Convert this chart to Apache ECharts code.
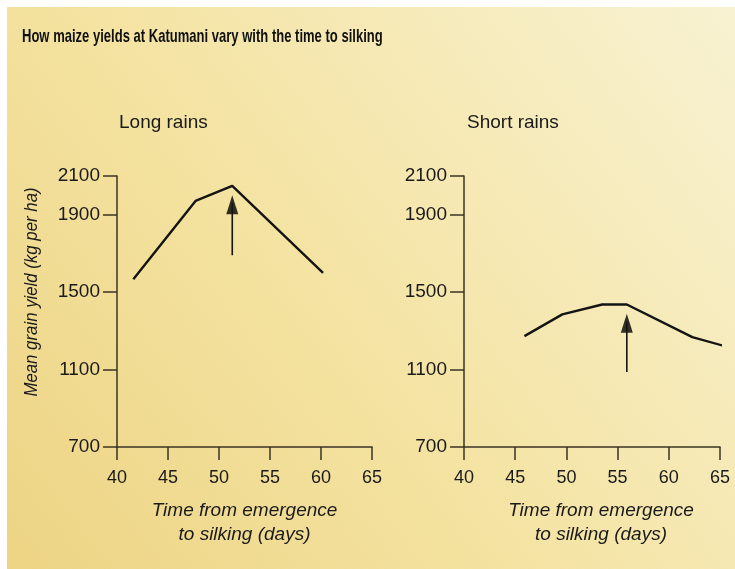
<!DOCTYPE html>
<html>
<head>
<meta charset="utf-8">
<script src="https://cdn.jsdelivr.net/npm/echarts@6/dist/echarts.min.js"></script>
<style>
  html, body { margin: 0; padding: 0; background: #fff; }
  #chart { width: 735px; height: 569px; }
</style>
</head>
<body>
<div id="chart"></div>
<script>
// ---------------- data ----------------
const longDays = [41.6, 47.7, 51.3, 60.2];
const longYield = [1567, 1971, 2049, 1600];
const shortDays = [45.9, 49.6, 53.5, 55.9, 62.3, 65.8];
const shortYield = [1273, 1385, 1436, 1436, 1268, 1216];
// arrows marking the optimum (x, base, tip)
const arrowDays = [51.3, 55.9];
const arrowBase = [1691, 1087];
const arrowTip = [2000, 1388];
const yTicks = [700, 1100, 1500, 1900, 2100];
const panelNames = ['Long rains', 'Short rains'];

const ink = '#141414';
const axisCol = '#3b3326';
const font = "'Liberation Sans', Arial, sans-serif";

const pairs = (xs, ys) => xs.map((x, i) => [x, ys[i]]);

function xAxisFor(idx, pad) {
  return {
    type: 'value', gridIndex: idx, min: 40, max: 65, interval: 5,
    axisLine: { lineStyle: { color: axisCol, width: 1.5 } },
    axisTick: { length: 13, lineStyle: { color: axisCol, width: 1.5 } },
    axisLabel: { margin: 22, fontSize: 18, color: '#1a1a1a', fontFamily: font },
    splitLine: { show: false },
    name: 'Time from emergence\nto silking (days)',
    nameLocation: 'middle', nameGap: 52,
    nameTextStyle: { fontSize: 19, fontStyle: 'italic', color: '#1a1a1a', fontFamily: font, lineHeight: 24, padding: pad }
  };
}
function yAxisFor(idx) {
  return {
    type: 'value', gridIndex: idx, min: 700, max: 2100,
    axisLine: { show: true, lineStyle: { color: axisCol, width: 1.5 } },
    axisTick: { show: true, length: 14, customValues: yTicks, lineStyle: { color: axisCol, width: 1.5 } },
    axisLabel: {
      margin: 17, fontSize: 19, color: '#1a1a1a', fontFamily: font, customValues: yTicks,
      formatter: v => String(v)
    },
    splitLine: { show: false }
  };
}
function arrowSeries(idx) {
  return [
    {
      type: 'line', xAxisIndex: idx, yAxisIndex: idx, symbol: 'none', silent: true,
      lineStyle: { color: ink, width: 1.6 },
      data: [[arrowDays[idx], arrowBase[idx]], [arrowDays[idx], arrowTip[idx] - 40]]
    },
    {
      type: 'scatter', xAxisIndex: idx, yAxisIndex: idx, symbol: 'triangle',
      symbolSize: [12, 19], symbolOffset: [0, '50%'], silent: true,
      itemStyle: { color: '#000' },
      data: [[arrowDays[idx], arrowTip[idx]]]
    }
  ];
}

const chart = echarts.init(document.getElementById('chart'));
chart.setOption({
  backgroundColor: '#ffffff',
  animation: false,
  graphic: [
    {
      type: 'rect', z: -10, silent: true,
      shape: { x: 7, y: 7, width: 728, height: 562 },
      style: {
        fill: new echarts.graphic.LinearGradient(0, 1, 1, 0, [
          { offset: 0, color: '#edd484' },
          { offset: 0.45, color: '#f4e3a2' },
          { offset: 1, color: '#f8f2d2' }
        ])
      }
    },
    {
      // condensed bold heading
      type: 'text', x: 22, y: 37, scaleX: 0.686,
      style: {
        text: 'How maize yields at Katumani vary with the time to silking',
        font: 'bold 19px ' + font, fill: '#111', align: 'left', verticalAlign: 'middle'
      }
    },
    {
      type: 'text', x: 32, y: 292, rotation: Math.PI / 2, scaleX: 0.884,
      style: { text: 'Mean grain yield (kg per ha)', font: 'italic 19px ' + font, fill: '#1a1a1a', align: 'center', verticalAlign: 'middle' }
    }
  ],
  title: [
    { text: panelNames[0], left: 114, top: 108, textStyle: { fontSize: 19, fontWeight: 'normal', color: '#1a1a1a', fontFamily: font } },
    { text: panelNames[1], left: 462, top: 108, textStyle: { fontSize: 19, fontWeight: 'normal', color: '#1a1a1a', fontFamily: font } }
  ],
  grid: [
    { left: 117, top: 176, width: 255, height: 271 },
    { left: 464, top: 176, width: 256, height: 271 }
  ],
  xAxis: [xAxisFor(0, [0, 0, 0, 0]), xAxisFor(1, [0, 0, 0, 18])],
  yAxis: [yAxisFor(0), yAxisFor(1)],
  series: [
    {
      type: 'line', xAxisIndex: 0, yAxisIndex: 0, symbol: 'none',
      lineStyle: { color: ink, width: 2.4 },
      data: pairs(longDays, longYield)
    },
    {
      type: 'line', xAxisIndex: 1, yAxisIndex: 1, symbol: 'none', clip: false,
      lineStyle: { color: ink, width: 2.4 },
      data: pairs(shortDays, shortYield)
    },
    ...arrowSeries(0),
    ...arrowSeries(1)
  ]
});
</script>
</body>
</html>
